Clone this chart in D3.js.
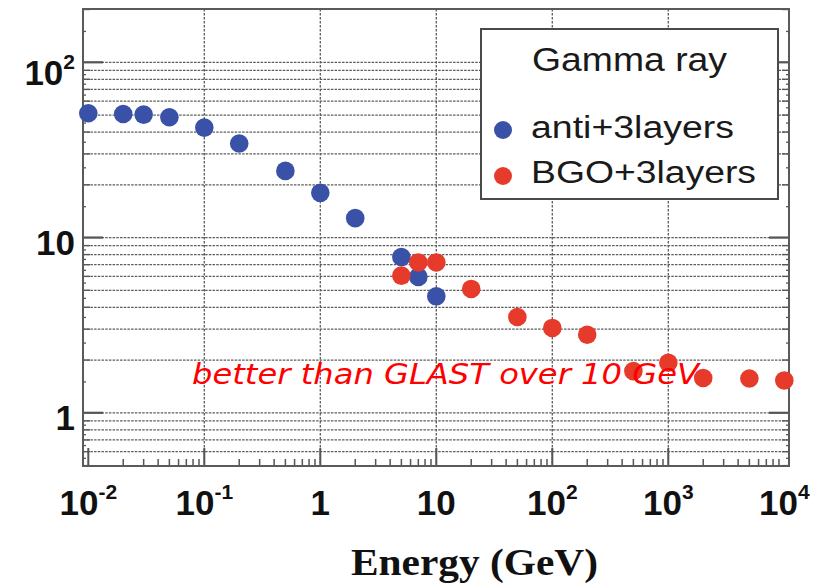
<!DOCTYPE html>
<html>
<head>
<meta charset="utf-8">
<script src="https://cdn.jsdelivr.net/npm/d3@7"></script>
<style>
  html, body { margin: 0; padding: 0; background: #fff; }
  svg { display: block; }
</style>
</head>
<body>
<svg id="chart" width="819" height="585"></svg>
<script>
// Gamma-ray series: energy (GeV) and measured quantity per detector setup
const energyAnti = [0.01, 0.02, 0.03, 0.05, 0.1, 0.2, 0.5, 1, 2, 5, 7, 10];
const valueAnti  = [51.2, 50.7, 50.3, 48.6, 42.4, 34.4, 24.0, 18.0, 12.9, 7.74, 5.96, 4.62];
const energyBGO  = [5, 7, 10, 20, 50, 100, 200, 500, 1000, 2000, 5000, 10000];
const valueBGO   = [6.06, 7.21, 7.21, 5.09, 3.52, 3.05, 2.79, 1.73, 1.93, 1.58, 1.57, 1.53];

const seriesNames = ["anti+3layers", "BGO+3layers"];
const legendTitle = "Gamma ray";
const xTickExps = [-2, -1, 0, 1, 2, 3, 4];
const yTickExps = [0, 1, 2];
const xAxisTitle = "Energy (GeV)";
const noteText = "better than GLAST over 10 GeV";

const colAnti = "#3a51a8";
const colBGO = "#e63a2b";

const svg = d3.select("#chart");

// Frame edges
const fL = 83, fR = 789, fT = 9, fB = 466;

// Log scales: decades at fixed pixel spacing
const x = d3.scaleLog().domain([1e-2, 1e4]).range([88.3, 784.3]);
const y = d3.scaleLog().domain([1, 100]).range([412.8, 62.3]);

const yMinVal = y.invert(fB), yMaxVal = y.invert(fT);
const xMinVal = x.invert(fL), xMaxVal = x.invert(fR);

const grid = svg.append("g");

// Horizontal grid at every minor step from the bottom up to 10^2
const hVals = [];
for (let e = -1; e <= 2; e++) {
  for (let k = 1; k <= 9; k++) {
    const v = k * Math.pow(10, e);
    if (v > yMinVal && v <= 100.01) hVals.push(v);
  }
}
grid.selectAll("line.h").data(hVals).join("line")
  .attr("x1", fL).attr("x2", fR)
  .attr("y1", d => y(d)).attr("y2", d => y(d))
  .attr("stroke", "#5c5c5c").attr("stroke-width", 1.3)
  .attr("stroke-dasharray", "2.5,1.2");

// Vertical grid at the decades
const vVals = [1e-1, 1, 10, 100, 1000];
grid.selectAll("line.v").data(vVals).join("line")
  .attr("y1", fT).attr("y2", fB)
  .attr("x1", d => x(d)).attr("x2", d => x(d))
  .attr("stroke", "#5c5c5c").attr("stroke-width", 1.3)
  .attr("stroke-dasharray", "2.5,1.5");

// Axis ticks
const ticks = svg.append("g").attr("stroke", "#555");

// Bottom ticks
const xTicks = [];
for (let e = -2; e <= 3; e++) {
  for (let k = 1; k <= 9; k++) {
    const v = k * Math.pow(10, e);
    if (v > xMinVal && v < xMaxVal) xTicks.push({ v, major: k === 1 });
  }
}
ticks.selectAll("line.xt").data(xTicks).join("line")
  .attr("x1", d => x(d.v)).attr("x2", d => x(d.v))
  .attr("y1", fB).attr("y2", d => fB - (d.major ? 18 : 7))
  .attr("stroke-width", d => d.major ? 2 : 1.5);

// Left and right ticks
const yTicks = [];
for (let e = -1; e <= 2; e++) {
  for (let k = 1; k <= 9; k++) {
    const v = k * Math.pow(10, e);
    if (v > yMinVal && v < yMaxVal) yTicks.push({ v, len: k === 1 ? 20 : 7 });
    const h = (k + 0.5) * Math.pow(10, e);
    if (k < 9 && h > yMinVal && h < yMaxVal) yTicks.push({ v: h, len: 3 });
  }
}
ticks.selectAll("line.yl").data(yTicks).join("line")
  .attr("x1", fL).attr("x2", d => fL + d.len)
  .attr("y1", d => y(d.v)).attr("y2", d => y(d.v))
  .attr("stroke-width", d => d.len === 20 ? 2.2 : 1.3);
ticks.selectAll("line.yr").data(yTicks).join("line")
  .attr("x1", fR).attr("x2", d => fR - d.len)
  .attr("y1", d => y(d.v)).attr("y2", d => y(d.v))
  .attr("stroke-width", d => d.len === 20 ? 2.2 : 1.3);

// Frame
svg.append("rect")
  .attr("x", fL).attr("y", fT).attr("width", fR - fL).attr("height", fB - fT)
  .attr("fill", "none").attr("stroke", "#5a5a5a").attr("stroke-width", 2);

// Tick labels
const labelFont = "'Liberation Sans', Arial, Helvetica, sans-serif";
function powerLabel(sel, e) {
  if (e === 0) { sel.append("tspan").text("1"); return; }
  if (e === 1) { sel.append("tspan").text("10"); return; }
  sel.append("tspan").text("10");
  sel.append("tspan").attr("dy", -16).attr("font-size", 21).text(String(e));
}

xTickExps.forEach(e => {
  const t = svg.append("text")
    .attr("x", x(Math.pow(10, e)))
    .attr("y", 515)
    .attr("text-anchor", "middle")
    .attr("font-family", labelFont).attr("font-weight", "bold")
    .attr("font-size", 35).attr("fill", "#111");
  powerLabel(t, e);
});

yTickExps.forEach(e => {
  const t = svg.append("text")
    .attr("x", 75)
    .attr("y", y(Math.pow(10, e)) + (e >= 2 ? 22.5 : 17.5))
    .attr("text-anchor", "end")
    .attr("font-family", labelFont).attr("font-weight", "bold")
    .attr("font-size", 35).attr("fill", "#111");
  powerLabel(t, e);
});

// Axis title
svg.append("text")
  .attr("x", 351).attr("y", 575)
  .attr("font-family", "'Liberation Serif', 'Times New Roman', serif")
  .attr("font-weight", "bold").attr("font-size", 38).attr("fill", "#111")
  .attr("textLength", 247).attr("lengthAdjust", "spacingAndGlyphs")
  .text(xAxisTitle);

// Data points
const ptsAnti = energyAnti.map((e, i) => ({ e, v: valueAnti[i] }));
const ptsBGO = energyBGO.map((e, i) => ({ e, v: valueBGO[i] }));

svg.append("g").selectAll("circle").data(ptsAnti).join("circle")
  .attr("cx", d => x(d.e)).attr("cy", d => y(d.v)).attr("r", 9.3)
  .attr("fill", colAnti);
svg.append("g").selectAll("circle").data(ptsBGO).join("circle")
  .attr("cx", d => x(d.e)).attr("cy", d => y(d.v)).attr("r", 9.3)
  .attr("fill", colBGO);

// Annotation
svg.append("text")
  .attr("x", 192).attr("y", 384)
  .attr("font-family", "'DejaVu Sans', Verdana, sans-serif")
  .attr("font-style", "italic").attr("font-size", 28.5).attr("fill", "#ff0000")
  .attr("textLength", 507).attr("lengthAdjust", "spacingAndGlyphs")
  .text(noteText);

// Legend
const lg = svg.append("g");
lg.append("rect")
  .attr("x", 481).attr("y", 29).attr("width", 297).attr("height", 170)
  .attr("fill", "#fff").attr("stroke", "#4a4a4a").attr("stroke-width", 2);
lg.append("text")
  .attr("x", 532).attr("y", 71)
  .attr("font-family", labelFont).attr("font-size", 33).attr("fill", "#1a1a1a")
  .attr("textLength", 195).attr("lengthAdjust", "spacingAndGlyphs")
  .text(legendTitle);

const legendRows = [
  { name: seriesNames[0], color: colAnti, cy: 130, base: 138, len: 203 },
  { name: seriesNames[1], color: colBGO, cy: 176, base: 183, len: 225 }
];
legendRows.forEach(r => {
  lg.append("circle").attr("cx", 503).attr("cy", r.cy).attr("r", 9).attr("fill", r.color);
  lg.append("text")
    .attr("x", 531).attr("y", r.base)
    .attr("font-family", labelFont).attr("font-size", 31).attr("fill", "#1a1a1a")
    .attr("textLength", r.len).attr("lengthAdjust", "spacingAndGlyphs")
    .text(r.name);
});
</script>
</body>
</html>
